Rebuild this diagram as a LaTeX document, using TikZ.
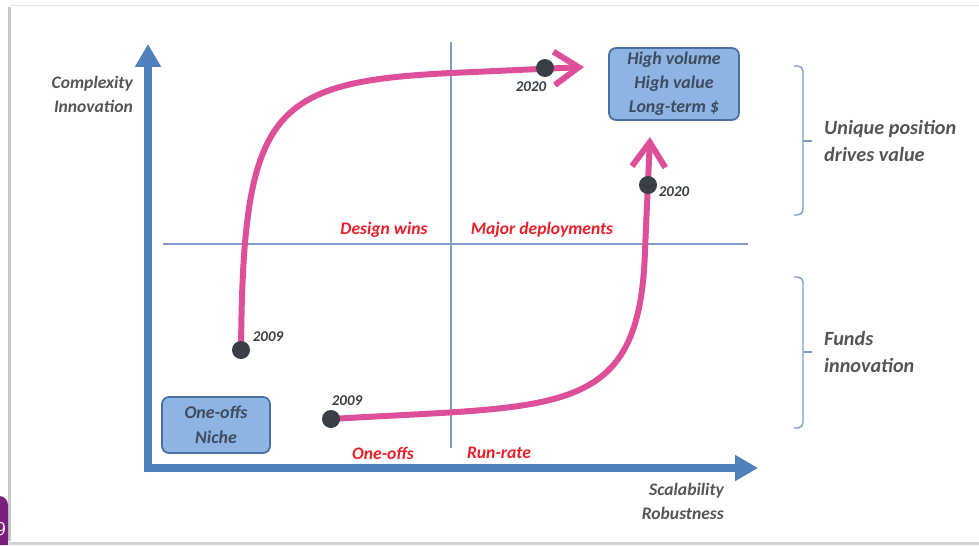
\documentclass[tikz,border=0pt]{standalone}
\usepackage{fontspec}
\setmainfont{Carlito}
\usetikzlibrary{arrows.meta}
\definecolor{axisblue}{HTML}{4F81BD}
\definecolor{gridblue}{HTML}{7F9CC4}
\definecolor{boxfill}{HTML}{8DB4E2}
\definecolor{boxdraw}{HTML}{4A6FA5}
\definecolor{boxtext}{HTML}{3F4B5E}
\definecolor{curvepink}{HTML}{DE4F9A}
\definecolor{labelred}{HTML}{E8202A}
\definecolor{dotgray}{HTML}{3A3F47}
\definecolor{textgray}{HTML}{555555}
\definecolor{slidepurple}{HTML}{7A1F7E}
\definecolor{framegray}{HTML}{C8C8C8}
\begin{document}
\begin{tikzpicture}[x=0.02cm, y=-0.02cm,
        every node/.style={font=\bfseries\itshape},
        axis/.style={draw=axisblue, line width=4.5pt, -{Triangle[length=13pt,width=14pt]}},
        grid/.style={draw=gridblue, line width=0.6pt},
        box/.style={
          draw=boxdraw, line width=1pt,
          fill=boxfill, text=boxtext,
          rounded corners=4pt, inner sep=0pt, align=center,
        },
        curve/.style={draw=curvepink, line width=3.4pt,
          -{Straight Barb[length=14pt,width=19pt,line width=3.4pt]}},
        dot/.style={circle, fill=dotgray, minimum size=0.36cm, inner sep=0pt},
        year/.style={text=dotgray, font=\fontsize{8.5}{10}\selectfont\bfseries\itshape},
        zone/.style={text=labelred, font=\fontsize{10}{12}\selectfont\bfseries\itshape},
        axlbl/.style={text=textgray, align=right, anchor=east,
          font=\fontsize{10}{13.6}\selectfont\bfseries\itshape},
        side/.style={text=textgray, align=left, anchor=west,
          font=\fontsize{11.5}{15.9}\selectfont\bfseries\itshape},
        brace/.style={draw=gridblue, line width=0.8pt, rounded corners=3pt},
      ]
      \useasboundingbox (0,0) rectangle (979,545);
      \fill[white] (0,0) rectangle (979,545);
      \draw[framegray!50, line width=0.6pt] (10,5.5) -- (979,5.5);
      \draw[framegray, line width=1.2pt] (9.5,7) -- (9.5,541);
      \fill[framegray!80] (9,541.5) rectangle (979,545);
      \begin{scope}
        \clip (0,496) rectangle (8,545);
        \fill[slidepurple] (-20,496) [rounded corners=5pt] -- (8,496) [sharp corners] -- (8,545) -- (-20,545) -- cycle;
        \node[text=white, font=\fontsize{11}{12}\selectfont\sffamily] (slideno) at (1,529) {9};
      \end{scope}

      \coordinate (o) at (148,468);
      \coordinate (ytip) at (148,44);
      \coordinate (xtip) at (758,468);
      \draw[axis] (148,472) -- (ytip);
      \draw[axis] (o) ++(-2,0) -- (xtip);

      \coordinate (vtop) at (451,42);
      \coordinate (vbot) at (451,448);
      \coordinate (hleft) at (163,244);
      \coordinate (hright) at (748,244);
      \draw[grid] (vtop) -- (vbot);
      \draw[grid] (hleft) -- (hright);

      \node[box, minimum width=2.6cm, minimum height=1.44cm,
        font=\fontsize{10.2}{13.6}\selectfont\bfseries\itshape] (high) at (674,84)
        {High volume\\High value\\Long-term \$};
      \node[box, minimum width=2.16cm, minimum height=1.12cm,
        font=\fontsize{10.2}{14}\selectfont\bfseries\itshape] (niche) at (216,425)
        {One-offs\\Niche};

      \coordinate (a09) at (241,350);
      \coordinate (a20) at (545,68);
      \coordinate (atip) at (584,67);
      \coordinate (b09) at (331,419);
      \coordinate (b20) at (648,185);
      \coordinate (btip) at (650,137);
      \draw[curve] (a09) .. controls (243,110) and (270,82) .. (451,73) -- (atip);
      \draw[curve] (b09) .. controls (560,405) and (640,420) .. (645,250) -- (btip);
      \node[dot] (a09dot) at (a09) {};
      \node[dot] (a20dot) at (a20) {};
      \node[dot] (b09dot) at (b09) {};
      \node[dot] (b20dot) at (b20) {};

      \node[year] (a09lbl) at (268,337) {2009};
      \node[year] (a20lbl) at (531,87) {2020};
      \node[year] (b09lbl) at (347,401) {2009};
      \node[year] (b20lbl) at (674,192) {2020};

      \node[zone] (design) at (384,230) {Design wins};
      \node[zone] (major) at (542,230) {Major deployments};
      \node[zone] (oneoffs) at (383,453) {One-offs};
      \node[zone] (runrate) at (499,453) {Run-rate};

      \node[axlbl] (ylbl) at (139,94) {Complexity\\Innovation};
      \node[axlbl] (xlbl) at (730,501) {Scalability\\Robustness};

      \draw[brace] (794,66) -- (803,66) -- (803,215) -- (794,215);
      \draw[brace] (803,141) -- (812,141);
      \draw[brace] (794,277) -- (803,277) -- (803,428) -- (794,428);
      \draw[brace] (803,352) -- (812,352);

      \node[side] (unique) at (818,141) {Unique position\\drives value};
      \node[side] (funds) at (818,352) {Funds\\innovation};
    \end{tikzpicture}
\end{document}
